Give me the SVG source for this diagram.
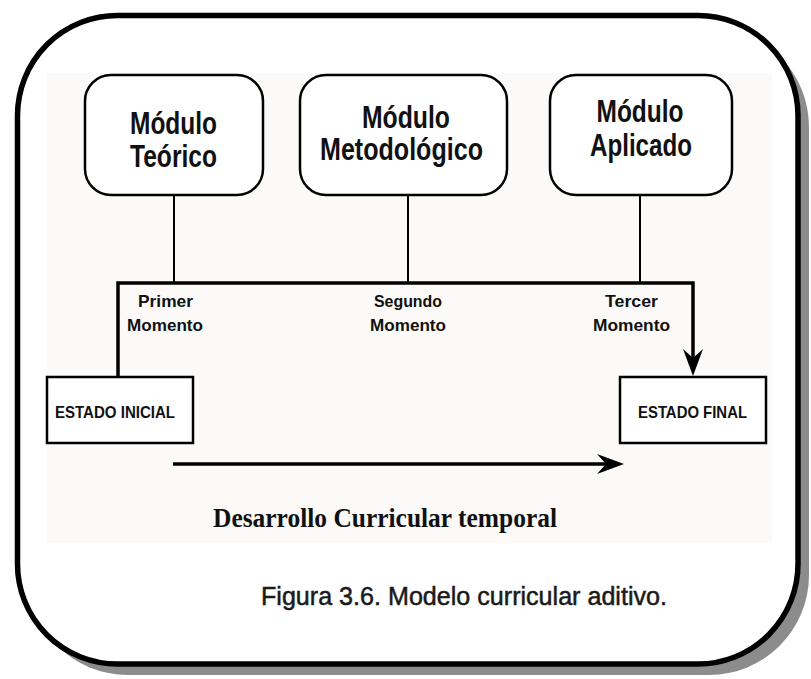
<svg xmlns="http://www.w3.org/2000/svg" width="811" height="679" viewBox="0 0 811 679">
  <style>
    .mod { fill: #fff; stroke: #000; stroke-width: 2.5; }
    .st { fill: #fff; stroke: #000; stroke-width: 2.5; }
    .mt { font-family: "Liberation Sans Narrow", "Liberation Sans", Arial, sans-serif; font-weight: bold; font-size: 31px; fill: #111; text-anchor: middle; }
    .lb { font-family: "Liberation Sans Narrow", "Liberation Sans", Arial, sans-serif; font-weight: bold; font-size: 17px; fill: #111; text-anchor: middle; }
    .sl { font-family: "Liberation Sans Narrow", "Liberation Sans", Arial, sans-serif; font-weight: bold; font-size: 17px; fill: #111; text-anchor: middle; }
    .thin { stroke: #000; stroke-width: 2; fill: none; }
    .thick { stroke: #000; stroke-width: 3.5; fill: none; }
  </style>
  <rect x="0" y="0" width="811" height="679" fill="#fff"/>
  <!-- outer frame -->
  <g id="frame">
    <rect x="28" y="27" width="781" height="648" rx="100" ry="100" fill="#8c8c8c"/>
    <rect x="17.5" y="15.5" width="780.5" height="648.5" rx="100" ry="100" fill="#fff" stroke="#000" stroke-width="5.5"/>
    <rect x="47" y="73" width="725" height="470" fill="#fbfaf8"/>
  </g>

  <g id="connectors">
    <line class="thin" x1="174" y1="195" x2="174" y2="283"/>
    <line class="thin" x1="408" y1="195" x2="408" y2="283"/>
    <line class="thin" x1="640" y1="195" x2="640" y2="283"/>
    <polyline class="thick" points="118,377 118,283 693,283 693,362"/>
    <polygon points="693,376 683,349 693,358 703,349" fill="#000"/>
    <line class="thick" x1="173" y1="464" x2="608" y2="464" stroke-width="4"/>
    <polygon points="624,464 597,454 606,464 597,474" fill="#000"/>
  </g>

  <g id="modulo-teorico">
    <rect class="mod" x="85" y="75" width="178" height="120" rx="26" ry="26"/>
    <text class="mt" x="173.5" y="134" textLength="87" lengthAdjust="spacingAndGlyphs">Módulo</text>
    <text class="mt" x="173.5" y="167" textLength="87" lengthAdjust="spacingAndGlyphs">Teórico</text>
  </g>
  <g id="modulo-metodologico">
    <rect class="mod" x="300" y="75" width="207" height="120" rx="26" ry="26"/>
    <text class="mt" x="406" y="128" textLength="88" lengthAdjust="spacingAndGlyphs">Módulo</text>
    <text class="mt" x="401.5" y="160" textLength="163" lengthAdjust="spacingAndGlyphs">Metodológico</text>
  </g>
  <g id="modulo-aplicado">
    <rect class="mod" x="550" y="75" width="182" height="120" rx="26" ry="26"/>
    <text class="mt" x="640" y="122" textLength="87" lengthAdjust="spacingAndGlyphs">Módulo</text>
    <text class="mt" x="641" y="156" textLength="102" lengthAdjust="spacingAndGlyphs">Aplicado</text>
  </g>

  <g id="labels">
    <text class="lb" x="165.5" y="307" textLength="55" lengthAdjust="spacingAndGlyphs">Primer</text>
    <text class="lb" x="165" y="331" textLength="76" lengthAdjust="spacingAndGlyphs">Momento</text>
    <text class="lb" x="408" y="307" textLength="68" lengthAdjust="spacingAndGlyphs">Segundo</text>
    <text class="lb" x="408" y="331" textLength="76" lengthAdjust="spacingAndGlyphs">Momento</text>
    <text class="lb" x="631.5" y="307" textLength="53" lengthAdjust="spacingAndGlyphs">Tercer</text>
    <text class="lb" x="631.5" y="331" textLength="77" lengthAdjust="spacingAndGlyphs">Momento</text>
  </g>

  <g id="estado-inicial">
    <rect class="st" x="47" y="377" width="146" height="66"/>
    <text class="sl" x="115" y="418" textLength="120" lengthAdjust="spacingAndGlyphs">ESTADO INICIAL</text>
  </g>
  <g id="estado-final">
    <rect class="st" x="620" y="377" width="146" height="66"/>
    <text class="sl" x="692.5" y="418" textLength="109" lengthAdjust="spacingAndGlyphs">ESTADO FINAL</text>
  </g>

  <text x="213" y="527" font-family="Liberation Serif, 'Times New Roman', serif" font-weight="bold" font-size="27" fill="#111" textLength="344" lengthAdjust="spacingAndGlyphs">Desarrollo Curricular temporal</text>
  <text x="261" y="605" font-family="'Liberation Sans', Arial, sans-serif" font-size="25" fill="#1a1a1a" stroke="#1a1a1a" stroke-width="0.5" textLength="406" lengthAdjust="spacingAndGlyphs">Figura 3.6. Modelo curricular aditivo.</text>
</svg>
